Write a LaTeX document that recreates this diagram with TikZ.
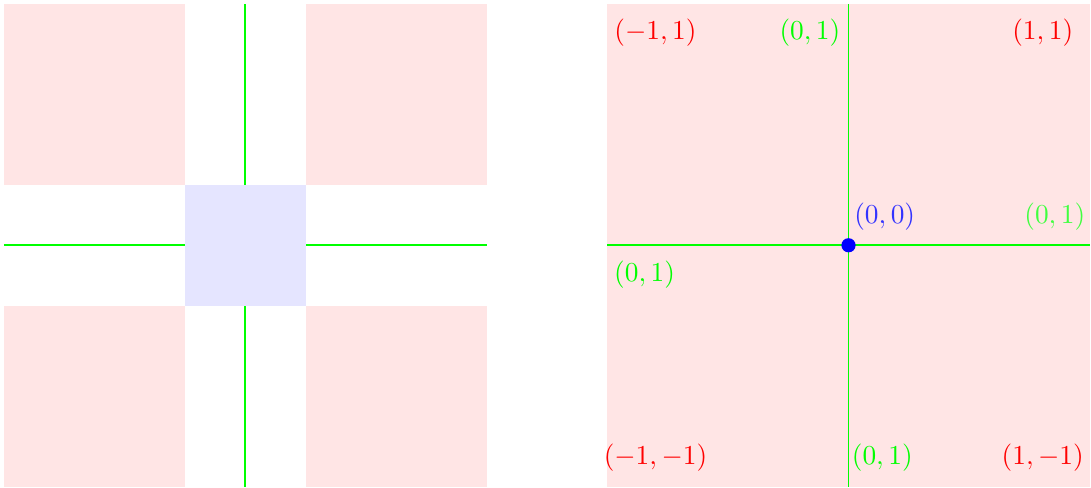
\documentclass[tikz,border=0pt]{standalone}
\begin{document}
\begin{tikzpicture}[x=1.55cm,y=1.55cm,
  pinkbox/.style={fill=red!10,draw=none},
  bluebox/.style={fill=blue!10,draw=none},
  greenline/.style={draw=green,line width=0.7pt},
  redlab/.style={text=red,inner sep=0pt},
  greenlab/.style={text=green,inner sep=0pt},
  palegreenlab/.style={text=green!75,inner sep=0pt},
  bluelab/.style={text=blue!80,inner sep=0pt}]
\useasboundingbox (-2.033,-2.008) rectangle (7.01,2.033);
% left picture
\fill[pinkbox] (-2,0.5) rectangle (-0.5,2);
\fill[pinkbox] (0.5,0.5) rectangle (2,2);
\fill[pinkbox] (-2,-2) rectangle (-0.5,-0.5);
\fill[pinkbox] (0.5,-2) rectangle (2,-0.5);
\coordinate (lt) at (0,2);
\coordinate (lb) at (0,-2);
\coordinate (ll) at (-2,0);
\coordinate (lr) at (2,0);
\draw[greenline] (lt) -- (lb);
\draw[greenline] (ll) -- (lr);
\fill[bluebox] (-0.5,-0.5) rectangle (0.5,0.5);
% right picture
\fill[pinkbox] (3,-2) rectangle (7,2);
\coordinate (rt) at (5,2);
\coordinate (rb) at (5,-2);
\coordinate (rl) at (3,0);
\coordinate (rr) at (7,0);
\draw[greenline] (rt) -- (rb);
\draw[greenline] (rl) -- (rr);
\node[circle,fill=blue,inner sep=0pt,minimum size=5.2pt] (o) at (5,0) {};
\node[redlab] (a) at (3.40,1.76) {$(-1,1)$};
\node[greenlab] (b) at (4.68,1.76) {$(0,1)$};
\node[redlab] (c) at (6.61,1.76) {$(1,1)$};
\node[bluelab] (d) at (5.30,0.24) {$(0,0)$};
\node[palegreenlab] (e) at (6.71,0.24) {$(0,1)$};
\node[greenlab] (f) at (3.31,-0.24) {$(0,1)$};
\node[redlab] (g) at (3.40,-1.76) {$(-1,-1)$};
\node[greenlab] (h) at (5.28,-1.76) {$(0,1)$};
\node[redlab] (i) at (6.61,-1.76) {$(1,-1)$};
\end{tikzpicture}
\end{document}
